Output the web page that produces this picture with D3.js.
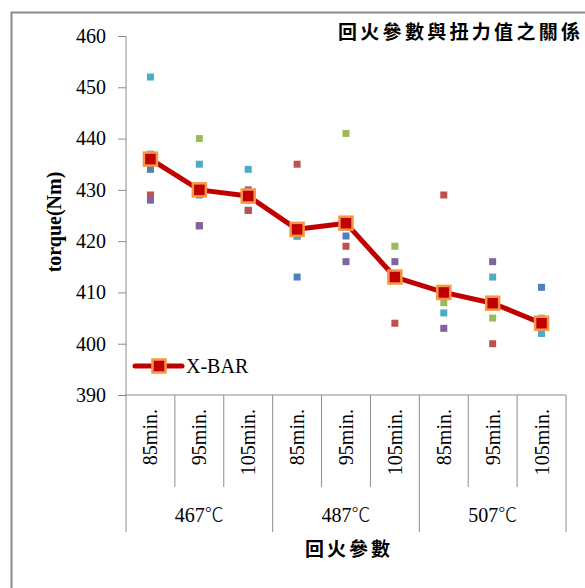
<!DOCTYPE html>
<html><head><meta charset="utf-8">
<script src="https://cdn.jsdelivr.net/npm/d3@7"></script>
<style>body{margin:0;background:#fff;}svg{display:block;}</style>
</head><body>
<svg id="c" width="585" height="588"></svg>
<script>
const temps = ["467","487","507"];
const tempUnit = "℃";
const times = ["85min.","95min.","105min."];
const categories = ["467-85","467-95","467-105","487-85","487-95","487-105","507-85","507-95","507-105"];
const xbar   = [436, 430, 428.8, 422.3, 423.5, 413, 410, 407.9, 404];
const s1Blue   = [434, 429, 426, 413, 421, 413, 410, 407.9, 411];
const s2Red    = [429, 423, 426, 435, 419, 404, 429, 400, 404];
const s3Green  = [437, 440, 428, 422, 441, 419, 408, 405, 405];
const s4Purple = [428, 423, 430, 421, 416, 416, 403, 416, 404];
const s5Cyan   = [452, 435, 434, 421, 424, 413, 406, 413, 402];
const yTicks = [390,400,410,420,430,440,450,460];
const seriesColors = ["#4F81BD","#C0504D","#9BBB59","#8064A2","#4BACC6"];

const svg = d3.select("#c");
const serif = "'Liberation Serif','Times New Roman',serif";
const cjk = "'Noto Sans CJK TC','Noto Sans CJK SC',sans-serif";
const axisCol = "#8c8c8c";

// outer border
svg.append("rect").attr("x",11.5).attr("y",12.5).attr("width",700).attr("height",700)
  .attr("fill","none").attr("stroke","#8c8c8c").attr("stroke-width",2);

const x = d3.scaleBand().domain(categories).range([126,566]).padding(0);
const y = d3.scaleLinear().domain([390,460]).range([395,36]);

// y axis
const ya = svg.append("g").attr("transform","translate(126,0)")
  .call(d3.axisLeft(y).tickValues(yTicks).tickSize(8).tickPadding(12).tickFormat(d3.format("d")));
ya.selectAll("path,line").attr("stroke",axisCol);
ya.select(".domain").attr("d","M0,36V395");
ya.selectAll("text").attr("font-family",serif).attr("font-size",20).attr("fill","#000");

// x axis hierarchical
const xg = svg.append("g");
xg.append("line").attr("x1",126).attr("x2",566).attr("y1",395).attr("y2",395).attr("stroke",axisCol);
categories.forEach((c,i)=>{
  const bx = x(c);
  const isGroup = i%3===0;
  xg.append("line").attr("x1",bx).attr("x2",bx).attr("y1",395).attr("y2",isGroup?532:487).attr("stroke",axisCol);
  xg.append("text").attr("transform",`translate(${bx+x.bandwidth()/2},409) rotate(-90)`)
    .attr("text-anchor","end").attr("dy","0.35em")
    .attr("font-family",serif).attr("font-size",20).text(times[i%3]);
});
xg.append("line").attr("x1",x.range()[1]).attr("x2",x.range()[1]).attr("y1",395).attr("y2",532).attr("stroke",axisCol);
temps.forEach((t,g)=>{
  const cx = (x(categories[g*3]) + x(categories[g*3+2]) + x.bandwidth())/2;
  const tx = xg.append("text").attr("x",cx).attr("y",522).attr("text-anchor","middle")
    .attr("font-family",serif).attr("font-size",20);
  tx.append("tspan").text(t);
  tx.append("tspan").attr("font-family",cjk).attr("font-weight","300").attr("font-size",19).text(tempUnit);
});

// scatter series
const seriesList = [s1Blue,s2Red,s3Green,s4Purple,s5Cyan];
seriesList.forEach((s,si)=>{
  svg.append("g").selectAll("rect").data(s).join("rect")
    .attr("x",(d,i)=>x(categories[i])+x.bandwidth()/2-3.5)
    .attr("y",d=>y(d)-3.5).attr("width",7).attr("height",7)
    .attr("fill",seriesColors[si]);
});

// X-BAR line
const line = d3.line().x((d,i)=>x(categories[i])+x.bandwidth()/2).y(d=>y(d));
svg.append("path").datum(xbar).attr("d",line).attr("fill","none")
  .attr("stroke","#C00000").attr("stroke-width",5).attr("stroke-linejoin","round");
svg.append("g").selectAll("rect").data(xbar).join("rect")
  .attr("x",(d,i)=>x(categories[i])+x.bandwidth()/2-6.5)
  .attr("y",d=>y(d)-6.5).attr("width",13).attr("height",13)
  .attr("fill","#C00000").attr("stroke","#F79646").attr("stroke-width",2.5);

// legend
const lg = svg.append("g");
lg.append("line").attr("x1",135).attr("x2",182).attr("y1",366).attr("y2",366)
  .attr("stroke","#C00000").attr("stroke-width",5).attr("stroke-linecap","round");
lg.append("rect").attr("x",159-6.5).attr("y",366-6.5).attr("width",13).attr("height",13)
  .attr("fill","#C00000").attr("stroke","#F79646").attr("stroke-width",2.5);
lg.append("text").attr("x",186).attr("y",373).attr("font-family",serif).attr("font-size",20).text("X-BAR");

// titles
svg.append("text").attr("x",338).attr("y",39).attr("font-family",cjk).attr("font-weight","bold")
  .attr("font-size",19).attr("letter-spacing","3.3px").text("回火參數與扭力值之關係");
svg.append("text").attr("x",349).attr("y",556).attr("text-anchor","middle").attr("font-family",cjk)
  .attr("font-weight","bold").attr("font-size",19).attr("letter-spacing","3px").text("回火參數");
svg.append("text").attr("transform","translate(54,222) rotate(-90)").attr("text-anchor","middle")
  .attr("dy","0.35em").attr("font-family",serif).attr("font-weight","bold").attr("font-size",20)
  .text("torque(Nm)");
</script>
</body></html>
